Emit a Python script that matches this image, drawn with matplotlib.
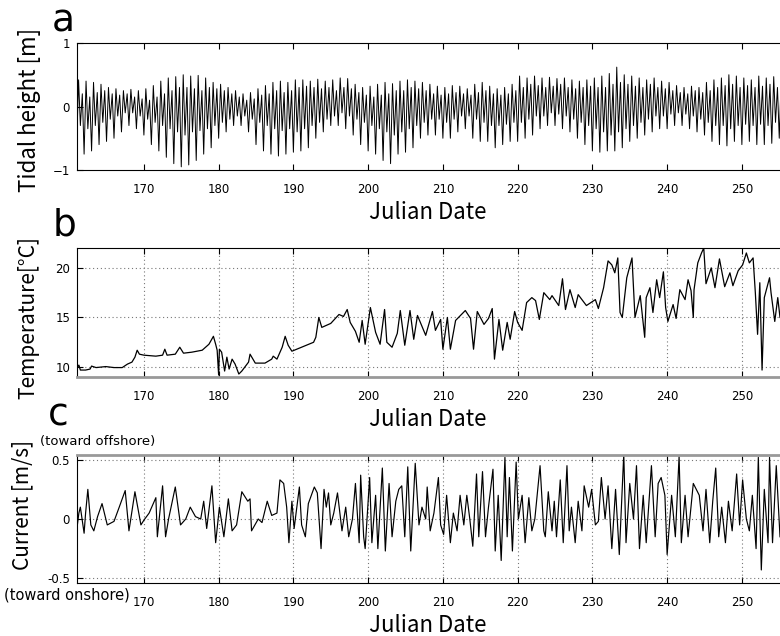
"""
Three stacked time series (tide, water temperature, cross-shore current)
against Julian date, redrawn from a MATLAB-style figure.
"""

import numpy as np
import matplotlib
matplotlib.use("Agg")
import matplotlib.pyplot as plt

plt.rcParams["font.family"] = ["Noto Sans CJK JP", "DejaVu Sans"]

# ---- data ----------------------------------------------------------------

# tide: one entry per day (161..255), four turning points per day
tide_days = np.arange(161, 256)
tide_hi1 = [0.42, 0.40, 0.38, 0.35, 0.30, 0.28, 0.25, 0.27, 0.25, 0.28,
            0.33, 0.40, 0.45, 0.47, 0.50, 0.48, 0.49, 0.45, 0.38, 0.35,
            0.30, 0.25, 0.20, 0.22, 0.28, 0.33, 0.38, 0.40, 0.38, 0.42,
            0.42, 0.40, 0.43, 0.40, 0.42, 0.45, 0.44, 0.35, 0.30, 0.32,
            0.35, 0.38, 0.36, 0.40, 0.42, 0.40, 0.38, 0.35, 0.32, 0.30,
            0.33, 0.32, 0.28, 0.35, 0.38, 0.32, 0.28, 0.30, 0.35, 0.48,
            0.45, 0.48, 0.45, 0.46, 0.44, 0.45, 0.42, 0.40, 0.42, 0.45,
            0.48, 0.52, 0.62, 0.50, 0.48, 0.45, 0.42, 0.45, 0.40, 0.38,
            0.33, 0.30, 0.32, 0.30, 0.38, 0.42, 0.45, 0.50, 0.48, 0.45,
            0.42, 0.48, 0.45, 0.47, 0.45]
tide_lo1 = [-0.65, -0.75, -0.70, -0.60, -0.55, -0.50, -0.40, -0.30, -0.35, -0.45,
            -0.60, -0.70, -0.80, -0.90, -0.95, -0.92, -0.85, -0.75, -0.65, -0.50,
            -0.40, -0.30, -0.30, -0.40, -0.60, -0.70, -0.75, -0.78, -0.75, -0.72,
            -0.70, -0.65, -0.50, -0.40, -0.30, -0.30, -0.35, -0.45, -0.60, -0.70,
            -0.75, -0.85, -0.90, -0.75, -0.72, -0.65, -0.50, -0.45, -0.45, -0.50,
            -0.50, -0.40, -0.35, -0.50, -0.55, -0.55, -0.65, -0.60, -0.55, -0.55,
            -0.50, -0.45, -0.35, -0.30, -0.30, -0.35, -0.40, -0.50, -0.60, -0.70,
            -0.72, -0.70, -0.70, -0.65, -0.55, -0.50, -0.45, -0.40, -0.35, -0.35,
            -0.30, -0.30, -0.35, -0.40, -0.45, -0.55, -0.60, -0.62, -0.55, -0.60,
            -0.55, -0.60, -0.60, -0.58, -0.50]
tide_hi2 = [0.20, 0.15, 0.22, 0.25, 0.20, 0.18, 0.20, 0.15, 0.12, 0.10,
            0.15, 0.20, 0.25, 0.30, 0.30, 0.28, 0.25, 0.30, 0.28, 0.25,
            0.20, 0.15, 0.10, 0.12, 0.18, 0.20, 0.25, 0.22, 0.25, 0.30,
            0.32, 0.30, 0.28, 0.30, 0.25, 0.30, 0.28, 0.22, 0.18, 0.15,
            0.18, 0.20, 0.25, 0.25, 0.30, 0.28, 0.25, 0.20, 0.18, 0.20,
            0.22, 0.20, 0.18, 0.22, 0.25, 0.20, 0.18, 0.20, 0.25, 0.30,
            0.35, 0.33, 0.30, 0.32, 0.35, 0.30, 0.28, 0.30, 0.32, 0.30,
            0.30, 0.35, 0.38, 0.35, 0.32, 0.30, 0.35, 0.30, 0.28, 0.25,
            0.22, 0.20, 0.25, 0.22, 0.25, 0.30, 0.33, 0.35, 0.30, 0.33,
            0.30, 0.32, 0.35, 0.30, 0.32]
tide_lo2 = [-0.30, -0.35, -0.30, -0.25, -0.20, -0.15, -0.10, -0.10, -0.15, -0.20,
            -0.25, -0.30, -0.35, -0.40, -0.45, -0.40, -0.38, -0.35, -0.30, -0.25,
            -0.20, -0.15, -0.15, -0.20, -0.25, -0.30, -0.35, -0.38, -0.35, -0.40,
            -0.35, -0.30, -0.25, -0.20, -0.15, -0.10, -0.15, -0.20, -0.25, -0.30,
            -0.35, -0.40, -0.45, -0.40, -0.35, -0.30, -0.25, -0.20, -0.20, -0.25,
            -0.20, -0.15, -0.15, -0.20, -0.25, -0.30, -0.30, -0.28, -0.25, -0.25,
            -0.20, -0.15, -0.15, -0.10, -0.12, -0.15, -0.20, -0.25, -0.30, -0.35,
            -0.40, -0.45, -0.40, -0.35, -0.30, -0.25, -0.20, -0.15, -0.15, -0.12,
            -0.10, -0.12, -0.15, -0.20, -0.25, -0.30, -0.30, -0.35, -0.30, -0.28,
            -0.30, -0.28, -0.30, -0.25, -0.25]

temp_day = [161.05, 161.3, 161.5, 162.2, 162.8, 163.0, 163.6, 164.9, 166.0, 167.1,
            167.8, 168.4, 168.8, 169.1, 169.4, 170.0, 171.6, 172.5, 172.8, 173.1,
            174.2, 174.8, 175.3, 176.4, 177.8, 178.7, 179.3, 179.6, 179.8, 180.0,
            180.1, 180.4, 180.8, 181.1, 181.4, 181.8, 182.2, 182.7, 183.1, 184.0,
            184.2, 184.9, 186.2, 187.1, 187.3, 187.8, 188.5, 188.9, 189.3, 189.8,
            191.1, 192.7, 193.0, 193.4, 193.8, 195.0, 196.1, 196.7, 197.2, 197.6,
            198.3, 198.8, 199.2, 199.6, 200.3, 201.0, 201.6, 202.2, 202.5, 203.2,
            203.9, 204.3, 204.9, 205.6, 206.1, 206.6, 207.7, 208.6, 209.0, 209.7,
            210.0, 210.6, 211.0, 211.7, 213.0, 213.7, 214.1, 214.6, 215.5, 216.1,
            216.6, 216.9, 217.5, 218.0, 218.6, 219.0, 219.6, 220.0, 220.6, 221.2,
            221.9, 222.4, 222.9, 223.5, 224.3, 224.6, 225.5, 226.0, 226.4, 227.0,
            227.7, 228.1, 229.2, 230.4, 230.8, 231.5, 232.1, 232.6, 233.0, 233.4,
            233.7, 234.0, 234.6, 235.3, 235.7, 236.4, 237.0, 237.2, 237.7, 238.1,
            238.6, 239.0, 239.5, 239.8, 240.1, 240.8, 241.2, 241.7, 242.4, 242.8,
            243.2, 243.5, 243.6, 244.1, 244.6, 244.9, 245.2, 245.9, 246.4, 247.0,
            247.7, 248.4, 248.8, 249.5, 250.1, 250.6, 251.0, 251.5, 251.8, 252.1,
            252.4, 252.7, 253.0, 253.7, 253.9, 254.4, 254.8, 255.1]
temp_val = [9.9, 10.2, 9.7, 9.7, 9.8, 10.1, 9.95, 10.05, 9.95, 9.95,
            10.3, 10.5, 11.0, 11.7, 11.3, 11.2, 11.1, 11.2, 11.8, 11.2,
            11.3, 12.0, 11.4, 11.5, 11.7, 12.3, 13.1, 12.3, 11.7, 9.2,
            11.8, 11.5, 9.6, 11.0, 9.8, 10.8, 10.3, 9.3, 9.6, 10.5,
            11.3, 10.4, 10.4, 10.8, 11.1, 10.8, 12.0, 13.1, 12.2, 11.6,
            12.0, 12.5, 13.0, 15.0, 14.0, 14.4, 15.3, 15.1, 15.8, 14.5,
            13.6, 12.5, 14.7, 12.3, 16.0, 13.5, 12.3, 15.8, 12.5, 12.0,
            13.4, 15.7, 12.2, 15.7, 12.8, 15.2, 13.2, 15.6, 13.7, 14.8,
            11.8, 15.0, 11.8, 14.7, 15.7, 14.9, 11.8, 15.6, 14.3, 14.9,
            15.9, 10.8, 14.8, 11.7, 14.5, 12.8, 15.6, 14.5, 13.7, 16.5,
            17.0, 16.7, 14.8, 17.5, 16.8, 17.2, 16.2, 18.9, 15.8, 17.8,
            16.0, 17.3, 16.2, 16.8, 15.9, 18.0, 20.7, 20.3, 19.5, 21.0,
            15.5, 15.0, 19.0, 21.0, 15.0, 17.2, 13.0, 17.0, 18.0, 15.5,
            18.8, 17.0, 19.6, 16.0, 14.6, 16.3, 14.9, 17.8, 16.8, 18.8,
            17.7, 15.0, 17.8, 20.5, 21.5, 22.0, 18.4, 20.0, 18.0, 20.9,
            18.1, 19.5, 18.2, 19.7, 20.3, 21.5, 20.5, 21.0, 17.5, 13.3,
            18.5, 9.7, 17.0, 19.0, 17.5, 14.6, 17.0, 15.0]

cur_day = [161.1, 161.3, 161.5, 162.0, 162.2, 162.5, 162.9, 163.3, 163.8, 164.4,
           165.1, 166.0, 166.7, 167.5, 168.0, 168.8, 169.6, 170.0, 170.7, 171.6,
           171.8, 172.5, 172.9, 173.3, 174.2, 174.9, 175.6, 176.2, 176.9, 177.6,
           178.0, 178.4, 179.1, 179.6, 180.1, 180.7, 181.3, 181.8, 182.4, 183.1,
           183.9, 184.2, 184.4, 185.3, 185.8, 186.5, 187.1, 187.8, 188.2, 188.7,
           189.1, 189.4, 189.8, 190.1, 190.8, 191.1, 191.6, 192.0, 192.8, 193.2,
           193.7, 194.1, 194.4, 194.7, 195.0, 195.4, 195.9, 196.5, 197.0, 197.4,
           197.9, 198.3, 198.8, 199.0, 199.4, 199.6, 200.2, 200.5, 201.0, 201.3,
           201.9, 202.3, 202.8, 203.2, 203.7, 204.1, 204.5, 204.9, 205.3, 205.7,
           206.3, 206.8, 207.2, 207.7, 207.9, 208.3, 208.8, 209.4, 209.7, 210.1,
           210.5, 211.0, 211.4, 211.9, 212.3, 212.8, 213.2, 213.6, 214.0, 214.5,
           214.8, 215.3, 215.7, 216.1, 216.7, 217.0, 217.4, 217.8, 218.3, 218.6,
           218.9, 219.3, 219.8, 220.1, 220.6, 221.0, 221.5, 221.9, 222.3, 223.0,
           223.5, 223.7, 224.1, 224.6, 224.9, 225.2, 225.7, 226.1, 226.6, 226.9,
           227.2, 227.7, 228.1, 228.6, 228.9, 229.5, 229.9, 230.4, 230.8, 231.2,
           231.7, 232.1, 232.6, 233.1, 233.6, 234.2, 234.5, 235.0, 235.5, 235.9,
           236.3, 236.8, 237.2, 237.9, 238.4, 238.8, 239.2, 239.7, 240.0, 240.6,
           241.1, 241.6, 241.9, 242.4, 242.8, 243.5, 243.9, 244.3, 244.8, 245.2,
           245.7, 246.1, 246.5, 246.9, 247.3, 247.8, 248.2, 248.7, 249.3, 249.7,
           250.1, 250.6, 251.0, 251.4, 251.9, 252.2, 252.6, 253.0, 253.5, 253.7,
           254.1, 254.6, 255.1]
cur_val = [-0.05, 0.05, 0.10, -0.12, 0.05, 0.25, -0.05, -0.10, 0.02, 0.13,
           -0.05, -0.02, 0.10, 0.24, -0.10, 0.23, -0.05, -0.01, 0.05, 0.18,
           -0.15, 0.28, -0.15, 0.00, 0.27, -0.05, 0.00, 0.10, 0.02, 0.00,
           0.15, -0.08, 0.28, -0.20, 0.10, -0.15, 0.17, -0.10, -0.05, 0.23,
           0.15, 0.17, -0.10, 0.00, -0.03, 0.15, 0.03, 0.05, 0.33, 0.30,
           0.10, -0.20, 0.15, -0.08, 0.27, -0.05, -0.15, 0.13, 0.27, 0.22,
           -0.25, 0.25, 0.10, 0.22, -0.05, 0.05, 0.22, -0.10, 0.10, -0.15,
           0.00, 0.30, -0.20, 0.37, -0.15, -0.25, 0.35, -0.20, 0.20, -0.25,
           0.43, -0.27, 0.30, -0.15, 0.15, 0.25, 0.28, -0.15, 0.44, -0.27,
           0.47, -0.05, 0.10, 0.00, 0.27, -0.10, 0.05, 0.35, -0.05, -0.13,
           0.20, -0.20, 0.05, -0.10, 0.20, -0.05, 0.20, 0.00, -0.23, 0.38,
           -0.15, 0.40, -0.15, 0.10, 0.42, -0.27, 0.20, -0.35, 0.52, -0.15,
           0.35, -0.27, 0.48, 0.00, 0.20, -0.20, 0.18, -0.10, 0.00, 0.45,
           -0.10, -0.15, 0.23, -0.10, 0.15, -0.15, 0.33, -0.20, 0.45, -0.10,
           0.10, -0.20, 0.15, -0.10, 0.28, 0.10, 0.25, -0.05, -0.02, 0.35,
           0.00, 0.28, -0.25, 0.25, -0.30, 0.55, -0.20, 0.30, 0.00, 0.45,
           -0.25, 0.20, -0.20, 0.45, -0.15, 0.30, 0.35, 0.20, -0.30, 0.20,
           -0.15, 0.53, -0.20, 0.20, -0.15, 0.30, 0.25, 0.20, -0.10, 0.25,
           -0.20, 0.15, 0.43, -0.15, 0.10, -0.20, 0.15, -0.10, 0.38, -0.05,
           0.33, 0.00, -0.10, 0.20, -0.25, 0.52, -0.43, 0.25, -0.20, 0.52,
           -0.20, 0.45, -0.15]

x_ticks = [170, 180, 190, 200, 210, 220, 230, 240, 250]
XLIM = (161.05, 255.1)

# ---- figure ---------------------------------------------------------------

W, H = 780, 636
fig = plt.figure(figsize=(W / 100, H / 100), dpi=100)


def px_axes(top, bottom, left=77, right=780):
    """Axes placed by pixel edges of the reference picture."""
    return fig.add_axes([left / W, 1 - bottom / H, (right - left) / W, (bottom - top) / H])


def style(ax, grid):
    ax.set_xlim(*XLIM)
    ax.set_xticks(x_ticks)
    ax.tick_params(direction="in", top=True, right=False, length=4, width=0.8,
                   labelsize=8.5, pad=9)
    ax.tick_params(axis="y", pad=5)
    for lab in ax.get_xticklabels() + ax.get_yticklabels():
        lab.set_family("DejaVu Sans")
    ax.spines["right"].set_visible(False)
    if grid:
        ax.grid(True, color="#777777", linestyle=(0, (1, 2.5)), linewidth=0.8)


def figtext(x, y, s, size, va="baseline", **kw):
    """Text at reference pixel (x, y); y is the baseline unless va says otherwise."""
    fig.text(x / W, 1 - y / H, s, fontsize=size, ha="center", va=va, **kw)


# a: tidal height
ax_a = px_axes(43, 170)
tide_t = np.column_stack([tide_days, tide_days + 0.26, tide_days + 0.5, tide_days + 0.76]).ravel()
tide_h = np.column_stack([tide_lo1, tide_hi1, tide_lo2, tide_hi2]).ravel()
ax_a.plot(tide_t, tide_h, color="black", linewidth=0.7)
ax_a.set_ylim(-1, 1)
ax_a.set_yticks([-1, 0, 1])
style(ax_a, grid=False)

# b: temperature
ax_b = px_axes(248, 377)
ax_b.plot(temp_day, temp_val, color="black", linewidth=0.9)
ax_b.set_ylim(9, 22)
ax_b.set_yticks([10, 15, 20])
style(ax_b, grid=True)
ax_b.spines["bottom"].set_color("#999999")
ax_b.spines["bottom"].set_linewidth(2)

# c: current
ax_c = px_axes(455, 583)
ax_c.plot(cur_day, cur_val, color="black", linewidth=0.85)
ax_c.set_ylim(-0.54, 0.54)
ax_c.set_yticks([-0.5, 0, 0.5])
ax_c.set_yticklabels(["-0.5", "0", "0.5"])
style(ax_c, grid=True)
ax_c.spines["top"].set_color("#999999")
ax_c.spines["top"].set_linewidth(2)

# panel letters, axis titles
figtext(63, 31, "a", 27, family="DejaVu Sans")
figtext(65, 236, "b", 27, family="DejaVu Sans")
figtext(58, 425, "c", 27, family="DejaVu Sans")

for y in (219, 426, 632):
    figtext(428, y, "Julian Date", 16)

figtext(30, 110, "Tidal height [m]", 16, va="center", rotation=90)
figtext(28, 317, "Temperature[°C]", 15, va="center", rotation=90)
figtext(22, 505, "Current [m/s]", 15, va="center", rotation=90)
figtext(98, 445, "(toward offshore)", 9.5, family="DejaVu Sans")
figtext(67, 600, "(toward onshore)", 10.5, family="DejaVu Sans")

fig.savefig("out.png", dpi=100, facecolor="white")
